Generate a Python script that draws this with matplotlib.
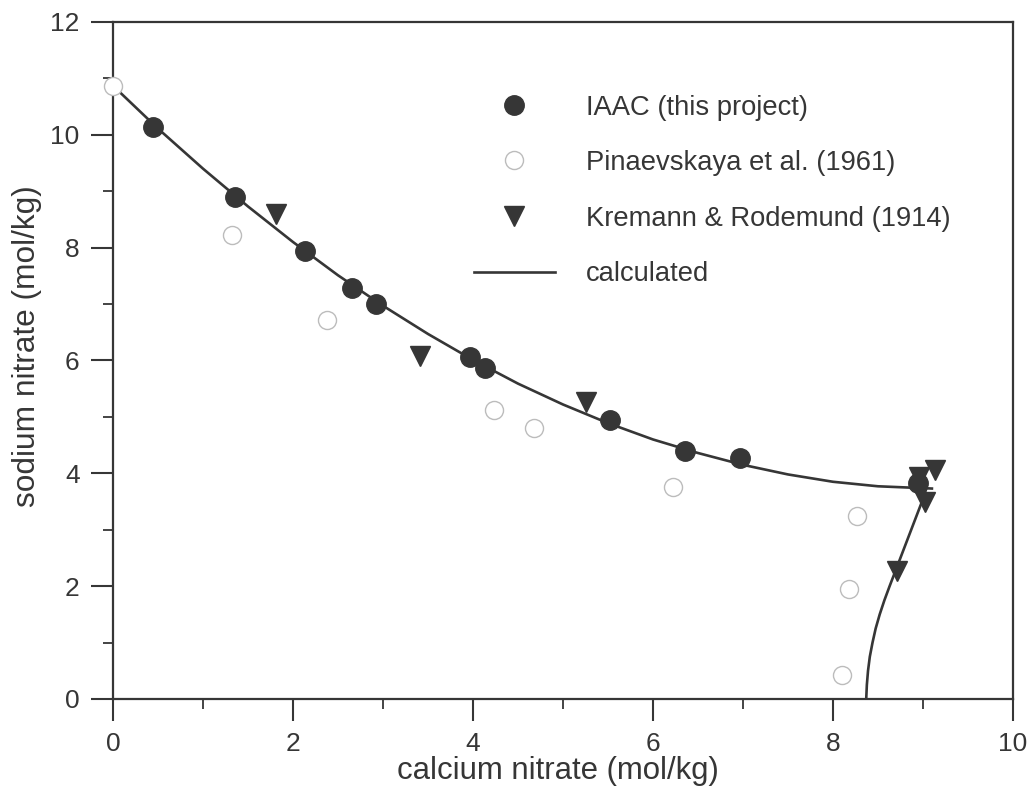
import matplotlib
matplotlib.use("Agg")
import matplotlib.pyplot as plt
from matplotlib.ticker import MultipleLocator

plt.rcParams['font.family'] = ['Liberation Sans', 'DejaVu Sans']

# IAAC (this project)
iaac_x = [0.44, 1.36, 2.13, 2.66, 2.92, 3.97, 4.13, 5.52, 6.36, 6.97, 8.94]
iaac_y = [10.14, 8.90, 7.94, 7.29, 7.00, 6.06, 5.87, 4.95, 4.40, 4.27, 3.83]

# Pinaevskaya et al. (1961)
pin_x = [0.0, 1.32, 2.38, 4.23, 4.68, 6.22, 8.27, 8.18, 8.10]
pin_y = [10.87, 8.23, 6.72, 5.12, 4.80, 3.76, 3.24, 1.95, 0.43]

# Kremann & Rodemund (1914)
kr_x = [1.81, 3.41, 5.26, 8.96, 9.13, 9.02, 8.71]
kr_y = [8.60, 6.08, 5.27, 3.94, 4.05, 3.50, 2.26]

# calculated curves (NaNO3 branch, then Ca(NO3)2 branch)
calc1_x = [0, 0.5, 1.0, 1.5, 2.0, 2.5, 3.0, 3.5, 4.0, 4.5, 5.0, 5.5, 6.0, 6.5, 7.0, 7.5, 8.0, 8.5, 9.1]
calc1_y = [10.87, 10.11, 9.40, 8.73, 8.10, 7.51, 6.97, 6.47, 6.01, 5.59, 5.22, 4.89, 4.60, 4.36, 4.15, 3.98, 3.85, 3.77, 3.73]
calc2_x = [8.370, 8.377, 8.390, 8.410, 8.440, 8.475, 8.520, 8.572, 8.630, 8.75, 8.87, 8.99, 9.04]
calc2_y = [0, 0.25, 0.5, 0.75, 1.0, 1.25, 1.5, 1.75, 2.0, 2.5, 3.0, 3.5, 3.74]

dark = "#363636"

fig = plt.figure(figsize=(10.32, 7.96), dpi=100)
ax = fig.add_axes([0.1095, 0.1219, 0.872, 0.8505])

ax.plot(calc1_x, calc1_y, color=dark, lw=1.9, zorder=2, label="calculated")
ax.plot(calc2_x, calc2_y, color=dark, lw=1.9, zorder=2)
ax.plot(iaac_x, iaac_y, "o", ms=14, color=dark, mec=dark, zorder=3, label="IAAC (this project)")
ax.plot(pin_x, pin_y, "o", ms=13, mfc="white", mec="#bcbcbc", mew=1.0, zorder=3,
        label="Pinaevskaya et al. (1961)", clip_on=False)
ax.plot(kr_x, kr_y, "v", ms=14, color=dark, zorder=3, label="Kremann & Rodemund (1914)")

ax.set_xlim(0, 10)
ax.set_ylim(0, 12)
ax.xaxis.set_major_locator(MultipleLocator(2))
ax.xaxis.set_minor_locator(MultipleLocator(1))
ax.yaxis.set_major_locator(MultipleLocator(2))
ax.yaxis.set_minor_locator(MultipleLocator(1))
ax.tick_params(which="major", direction="out", length=16, width=1.5, color=dark,
               labelsize=19, labelcolor=dark, pad=8)
ax.tick_params(which="minor", direction="out", length=7, width=1.3, color=dark)
for s in ax.spines.values():
    s.set_color(dark)
    s.set_linewidth(1.6)

ax.set_xlabel("calcium nitrate (mol/kg)", fontsize=22.4, color=dark, labelpad=-0.5)
ax.set_ylabel("sodium nitrate (mol/kg)", fontsize=22.8, color=dark, labelpad=6)
ax.xaxis.label.set_x(0.494)
ax.yaxis.label.set_y(0.521)

h, l = ax.get_legend_handles_labels()
order = [1, 2, 3, 0]
ax.legend([h[i] for i in order], [l[i] for i in order], loc="upper left",
          bbox_to_anchor=(0.389, 0.909), frameon=False, fontsize=19.7,
          labelcolor=dark, handlelength=2.95, handletextpad=1.15, labelspacing=1.08,
          borderaxespad=0)

fig.savefig("out.png", dpi=100)
